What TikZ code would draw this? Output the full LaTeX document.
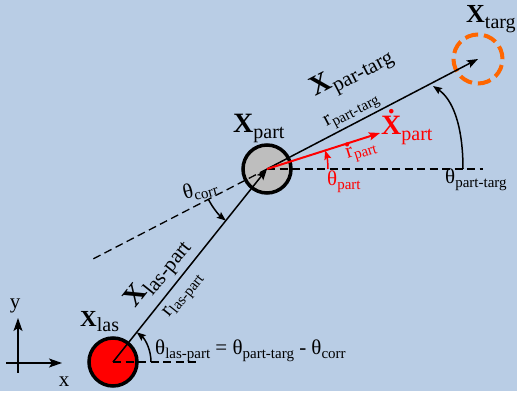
\documentclass[tikz,border=0pt]{standalone}
\usepackage{fontspec}
\setmainfont{Liberation Serif}
\usetikzlibrary{arrows.meta}
\definecolor{bgblue}{RGB}{185,205,229}
\definecolor{orng}{RGB}{255,102,0}
\definecolor{grayfill}{RGB}{190,190,190}
\newcommand\fs[1]{\fontsize{#1}{#1}\selectfont}
\newcommand\sbs[3]{\raisebox{-#2pt}{\fs{#1}#3}}
\newcommand\dotover[3]{\setbox0\hbox{#3}\rlap{\hbox to\wd0{\hss\raisebox{#1}{#2.}\hss}}\box0}
\begin{document}
\begin{tikzpicture}[x=1pt,y=1pt,
  lbl/.style={inner sep=0pt, font=\fs{21}},
  conn/.style={line width=1.5pt, -{Stealth[length=11pt,width=8pt,inset=2pt]}},
  dsh/.style={line width=1.3pt, dash pattern=on 8pt off 4.5pt},
  angarr/.style={line width=1.5pt, -{Stealth[length=9pt,width=7pt,inset=1.5pt]}},
  axisarr/.style={line width=1.5pt, -{Stealth[length=13pt,width=9pt,inset=3pt]}},
  body/.style={circle, draw, line width=3.5pt, minimum size=48pt, inner sep=0pt},
]
\fill[white] (0,0) rectangle (517,399);
\fill[bgblue] (0,8) rectangle (517,399);
\useasboundingbox (0,0) rectangle (517,399);

% bodies
\node[body, fill=red] (las) at (113,37) {};
\node[body, fill=grayfill] (part) at (267,230) {};
\node[circle, draw=orng, line width=4pt, dash pattern=on 13.2pt off 6pt, minimum size=49pt, inner sep=0pt] (targ) at (478,340) {};

% helper coordinates
\coordinate (ext) at (93,140);
\coordinate (hp) at (483,230);
\coordinate (hl) at (200,37);
\coordinate (vel) at (380,266);
\coordinate (ptA) at (463,230);
\coordinate (ptB) at (433,313);

% dashed references
\draw[dsh] (part.center) -- (hp);
\draw[dsh] (las.center) -- (hl);
\draw[dsh] (part.center) -- (ext);

% connectors
\draw[conn] (las.center) -- (part.center);
\draw[conn] (part.center) -- (targ.center);
\draw[conn, red, line width=2pt] (part.center) -- (vel);

% angle arcs
\draw[angarr] ([shift={(0:38)}]las.center) arc[start angle=0,end angle=51.4,radius=38];
\draw[angarr, red] ([shift={(0:61)}]part.center) arc[start angle=0,end angle=17.7,radius=61];
\draw[angarr] ([shift={(207.4:66)}]part.center) arc[start angle=207.4,end angle=231.4,radius=66];
\draw[angarr] (ptA) .. controls (463,275) and (452,300) .. (ptB);

% axes
\coordinate (ax0) at (6,36);
\coordinate (ax1) at (62,36);
\coordinate (ay0) at (18,26);
\coordinate (ay1) at (18,81);
\draw[axisarr] (ax0) -- (ax1);
\draw[axisarr] (ay0) -- (ay1);
\node[lbl] (ylab) at (15,93) {y};
\node[lbl] (xlab) at (64,17) {x};

% labels
\node[lbl, anchor=base west] (xlas) at (80,72) {{\fs{23}\bfseries X}\sbs{20}{5}{las}};
\node[lbl, anchor=base west] (xpart) at (233,266) {{\fs{28}\bfseries X}\sbs{20}{6}{part}};
\node[lbl, anchor=base west] (xtarg) at (466,376) {{\fs{26}\bfseries X}\sbs{20}{6}{targ}};
\node[lbl, anchor=base west, text=red] (xdot) at (381,264) {\dotover{21pt}{\fs{28}\bfseries}{\fs{28}\bfseries X}\sbs{20}{6}{part}};
\node[lbl, rotate=27.5] (xpt) at (352,326) {{\fs{28}\bfseries X}\sbs{21}{6}{par-targ}};
\node[lbl, rotate=51.4] (xlp) at (158,125) {{\fs{28}\bfseries X}\sbs{21}{6}{las-part}};
\node[lbl, rotate=27.5] (rpt) at (352,287) {r\sbs{15}{4}{part-targ}};
\node[lbl, rotate=51.4] (rlp) at (184,103) {r\sbs{15}{4}{las-part}};
\node[lbl, rotate=17.7, text=red] (rdot) at (361,249) {\dotover{11pt}{\fs{26}\bfseries}{r}\sbs{15}{4}{part}};
\node[lbl, anchor=base west, text=red] (thp) at (327,213) {θ\sbs{15}{4}{part}};
\node[lbl, anchor=base west] (thpt) at (445,215) {θ\sbs{15}{4}{part-targ}};
\node[lbl, rotate=15] (thc) at (200,209) {θ\sbs{15}{4}{corr}};
\node[lbl, anchor=base west] (thlp) at (155,44) {θ\sbs{15}{4}{las-part} = θ\sbs{15}{4}{part-targ} - θ\sbs{15}{4}{corr}};
\end{tikzpicture}
\end{document}
